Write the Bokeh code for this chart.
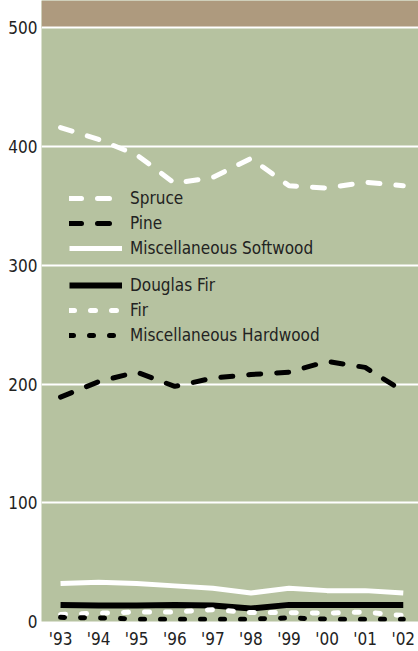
from bokeh.plotting import figure
from bokeh.models import BoxAnnotation, Legend, LegendItem, Range1d, FixedTicker
from bokeh.embed import file_html
from bokeh.resources import INLINE

years = [1993, 1994, 1995, 1996, 1997, 1998, 1999, 2000, 2001, 2002]
year_labels = ["'93", "'94", "'95", "'96", "'97", "'98", "'99", "'00", "'01", "'02"]

spruce = [416, 406, 393, 369, 374, 390, 367, 365, 370, 367]
pine = [189, 202, 210, 198, 205, 208, 210, 219, 214, 194]
misc_softwood = [32, 33, 32, 30, 28, 24, 28, 26, 26, 24]
douglas_fir = [14, 13.5, 13.5, 14, 13.5, 11, 14, 14, 14, 14]
fir = [6, 7, 8, 8, 10, 7.5, 7.5, 7, 8, 5]
misc_hardwood = [3.5, 3, 2, 2, 2, 2, 3, 2, 2, 2]

y_ticks = [0, 100, 200, 300, 400, 500]

FONT = "'Liberation Sans Narrow', 'DejaVu Sans Condensed', sans-serif"
GREEN = "#B6C2A0"
TAN = "#AE9A7E"

p = figure(width=418, height=651, output_backend="svg", toolbar_location=None,
           x_range=Range1d(1992.5, 2002.4), y_range=Range1d(0, 523),
           min_border_left=41, min_border_right=0, min_border_top=0, min_border_bottom=0)
p.background_fill_color = GREEN
p.border_fill_color = "white"
p.outline_line_color = None

p.add_layout(BoxAnnotation(bottom=500, fill_color=TAN, fill_alpha=1, line_color=None, level="image"))

p.xgrid.grid_line_color = None
p.ygrid.grid_line_color = "white"
p.ygrid.grid_line_width = 2
p.ygrid.ticker = FixedTicker(ticks=y_ticks)

p.yaxis.ticker = FixedTicker(ticks=y_ticks)
p.xaxis.ticker = FixedTicker(ticks=years)
p.xaxis.major_label_overrides = {y: l for y, l in zip(years, year_labels)}
for ax in (p.xaxis, p.yaxis):
    ax.axis_line_color = None
    ax.major_tick_line_color = None
    ax.minor_tick_line_color = None
    ax.major_tick_out = 0
    ax.major_tick_in = 0
    ax.major_label_text_font = FONT
    ax.major_label_text_font_size = "17px"
    ax.major_label_text_color = "#222222"
p.yaxis.major_label_standoff = 4
p.xaxis.major_label_standoff = 7

W = 5
r_spruce = p.line(years, spruce, line_color="white", line_width=W, line_dash="12 16", line_cap="round")
r_pine = p.line(years, pine, line_color="black", line_width=W, line_dash="12 16", line_cap="round")
r_msw = p.line(years, misc_softwood, line_color="white", line_width=W)
r_df = p.line(years, douglas_fir, line_color="black", line_width=W + 1)
r_fir = p.line(years, fir, line_color="white", line_width=W, line_dash="5 16", line_cap="round")
r_mhw = p.line(years, misc_hardwood, line_color="black", line_width=W, line_dash="4 16", line_cap="round")

def make_legend(items, loc):
    lg = Legend(items=items, location=loc, background_fill_alpha=0, border_line_color=None,
                glyph_width=53, glyph_height=20, label_height=20, spacing=5, padding=0, margin=0,
                label_standoff=8, label_text_font=FONT, label_text_font_size="17px",
                label_text_color="#222222")
    p.add_layout(lg, "center")

make_legend([LegendItem(label="Spruce", renderers=[r_spruce]),
             LegendItem(label="Pine", renderers=[r_pine]),
             LegendItem(label="Miscellaneous Softwood", renderers=[r_msw])], (28, 363))
make_legend([LegendItem(label="Douglas Fir", renderers=[r_df]),
             LegendItem(label="Fir", renderers=[r_fir]),
             LegendItem(label="Miscellaneous Hardwood", renderers=[r_mhw])], (28, 276))

open("out.html", "w").write(file_html(p, INLINE))
